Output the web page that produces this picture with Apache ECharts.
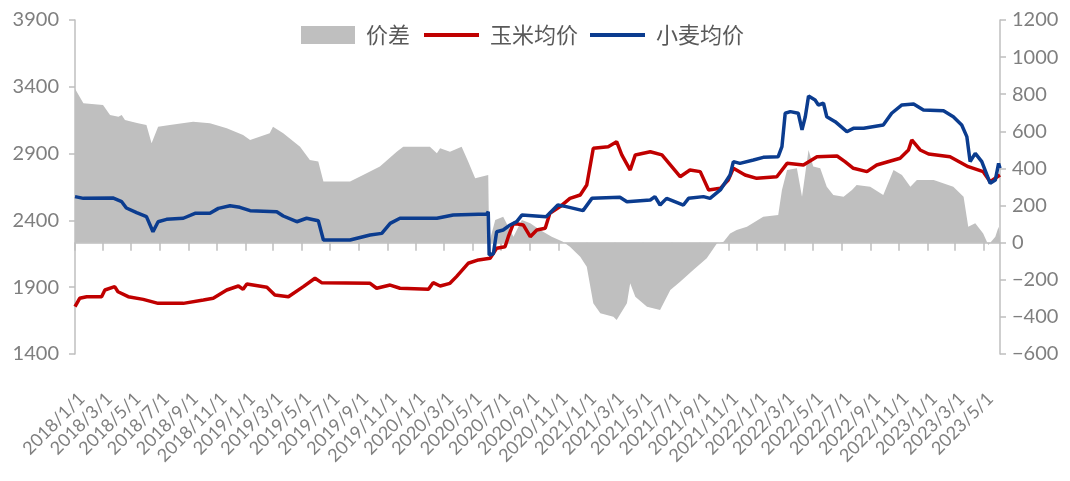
<!DOCTYPE html>
<html>
<head>
<meta charset="utf-8">
<script src="https://cdn.jsdelivr.net/npm/echarts@6/dist/echarts.min.js"></script>
<style>
html,body{margin:0;padding:0;background:#fff;}
#c{width:1070px;height:481px;}
</style>
</head>
<body>
<div id="c"></div>
<script>
// ---- data ----
const startDate = '2018/1/1';
const endDate = '2023/6/5';
const leftTicks = [1400, 1900, 2400, 2900, 3400, 3900];
const rightTicks = [-600, -400, -200, 0, 200, 400, 600, 800, 1000, 1200];

// 价差 (right axis)
const spreadDates = ['2018/1/1','2018/1/19','2018/3/2','2018/3/17','2018/4/4','2018/4/11','2018/4/18','2018/5/16','2018/6/3','2018/6/14','2018/6/28','2018/7/23','2018/9/11','2018/10/17','2018/11/22','2018/12/27','2019/1/11','2019/2/22','2019/3/1','2019/3/23','2019/4/28','2019/5/19','2019/6/6','2019/6/17','2019/8/13','2019/9/10','2019/10/16','2019/11/21','2019/12/5','2020/1/31','2020/2/15','2020/2/22','2020/3/14','2020/4/8','2020/4/22','2020/5/7','2020/6/4','2020/6/6','2020/6/19','2020/7/6','2020/7/28','2020/8/15','2020/9/2','2020/9/23','2020/10/18','2020/11/11','2020/11/26','2020/12/18','2021/1/1','2021/1/15','2021/1/30','2021/2/27','2021/3/6','2021/3/28','2021/4/4','2021/4/15','2021/5/10','2021/6/7','2021/6/29','2021/7/20','2021/8/17','2021/9/15','2021/10/7','2021/10/21','2021/11/4','2021/11/18','2021/12/10','2022/1/14','2022/2/15','2022/2/23','2022/3/6','2022/3/27','2022/4/7','2022/4/14','2022/4/21','2022/5/1','2022/5/16','2022/5/30','2022/6/13','2022/7/5','2022/7/23','2022/8/2','2022/8/31','2022/9/28','2022/10/20','2022/11/7','2022/11/25','2022/12/9','2023/1/14','2023/2/25','2023/3/19','2023/3/29','2023/4/13','2023/4/30','2023/5/11','2023/5/26','2023/6/2','2023/6/5'];
const spreadValues = [830,751,742,688,679,688,661,643,634,536,625,634,652,643,616,580,553,589,625,589,517,446,437,329,329,365,410,490,517,517,482,509,490,517,437,347,365,0,122,140,32,122,104,68,32,5,-22,-76,-130,-327,-381,-399,-417,-327,-219,-291,-345,-363,-255,-210,-147,-84,-3,5,50,68,86,140,149,284,392,401,248,374,499,410,401,302,257,248,284,311,302,257,392,365,302,338,338,302,248,86,104,50,-13,32,86,32];

// 玉米均价 (left axis)
const cornDates = ['2018/1/1','2018/1/11','2018/1/26','2018/2/27','2018/3/6','2018/3/27','2018/4/3','2018/4/25','2018/5/27','2018/6/28','2018/8/21','2018/10/3','2018/10/24','2018/11/22','2018/12/17','2018/12/27','2019/1/4','2019/2/16','2019/3/5','2019/4/3','2019/5/5','2019/5/30','2019/6/13','2019/9/25','2019/10/9','2019/11/7','2019/11/28','2020/1/28','2020/2/7','2020/2/22','2020/3/14','2020/3/28','2020/4/22','2020/5/14','2020/6/8','2020/6/22','2020/7/10','2020/7/17','2020/7/28','2020/8/18','2020/9/2','2020/9/16','2020/10/4','2020/10/14','2020/11/5','2020/11/26','2020/12/18','2021/1/1','2021/1/15','2021/2/16','2021/3/6','2021/3/17','2021/4/4','2021/4/15','2021/5/17','2021/6/11','2021/7/20','2021/8/10','2021/9/1','2021/9/19','2021/10/14','2021/10/31','2021/11/11','2021/12/6','2021/12/31','2022/2/12','2022/3/6','2022/4/10','2022/5/9','2022/6/21','2022/7/8','2022/7/26','2022/8/24','2022/9/14','2022/11/3','2022/11/21','2022/11/28','2022/12/16','2023/1/3','2023/2/18','2023/3/29','2023/4/30','2023/5/15','2023/6/5'];
const cornValues = [1754,1817,1829,1829,1879,1904,1866,1829,1809,1779,1779,1804,1817,1879,1909,1884,1924,1899,1842,1829,1904,1967,1934,1929,1892,1916,1892,1884,1934,1909,1929,1979,2079,2104,2116,2191,2203,2278,2378,2366,2278,2328,2341,2453,2503,2565,2590,2665,2940,2952,2989,2890,2777,2890,2914,2890,2727,2777,2765,2628,2640,2702,2790,2740,2715,2727,2827,2815,2877,2882,2840,2790,2765,2815,2865,2927,3002,2927,2897,2877,2802,2765,2690,2740];

// 小麦均价 (left axis)
const wheatDates = ['2018/1/1','2018/1/19','2018/3/23','2018/4/11','2018/4/21','2018/5/13','2018/6/3','2018/6/17','2018/6/28','2018/7/16','2018/8/21','2018/9/15','2018/10/17','2018/11/4','2018/11/29','2018/12/20','2019/1/11','2019/3/9','2019/3/23','2019/4/21','2019/5/12','2019/6/6','2019/6/17','2019/8/13','2019/9/25','2019/10/20','2019/11/7','2019/11/28','2020/2/15','2020/3/21','2020/6/1','2020/6/4','2020/6/6','2020/6/15','2020/6/22','2020/7/6','2020/7/21','2020/8/4','2020/8/15','2020/10/6','2020/10/31','2020/11/18','2020/12/24','2021/1/12','2021/3/13','2021/3/28','2021/5/17','2021/5/27','2021/6/7','2021/6/21','2021/7/27','2021/8/7','2021/9/8','2021/9/22','2021/10/14','2021/11/4','2021/11/11','2021/11/25','2021/12/24','2022/1/14','2022/2/15','2022/2/23','2022/3/2','2022/3/13','2022/3/30','2022/4/7','2022/4/14','2022/4/21','2022/5/5','2022/5/12','2022/5/23','2022/5/30','2022/6/17','2022/7/12','2022/7/26','2022/8/17','2022/9/28','2022/10/16','2022/11/7','2022/12/2','2022/12/23','2023/2/4','2023/2/25','2023/3/15','2023/3/26','2023/4/2','2023/4/13','2023/4/27','2023/5/15','2023/5/26','2023/6/2','2023/6/5'];
const wheatValues = [2578,2565,2568,2540,2493,2458,2428,2315,2390,2408,2416,2453,2453,2490,2510,2498,2473,2465,2433,2390,2416,2398,2253,2253,2291,2303,2378,2416,2416,2440,2448,2465,2141,2150,2315,2328,2366,2391,2440,2428,2515,2503,2473,2565,2573,2540,2553,2578,2515,2565,2515,2565,2578,2565,2628,2740,2840,2827,2852,2872,2877,2952,3202,3214,3202,3077,3176,3331,3301,3264,3277,3176,3139,3064,3089,3089,3114,3202,3264,3271,3226,3221,3176,3114,3027,2840,2902,2840,2678,2702,2827,2790];

// ---- build category axis (calendar days) ----
function fmt(d){return d.getUTCFullYear()+'/'+(d.getUTCMonth()+1)+'/'+d.getUTCDate();}
function parse(s){const p=s.split('/');return new Date(Date.UTC(+p[0],+p[1]-1,+p[2]));}
const categories=[];
for(let d=parse(startDate); d<=parse(endDate); d=new Date(d.getTime()+86400000)) categories.push(fmt(d));
const idx={}; categories.forEach((c,i)=>idx[c]=i);
const pairs=(ds,vs)=>ds.map((d,i)=>[idx[d],vs[i]]);
const isTick=(i,v)=>{const p=String(v).split('/');return p[2]==='1' && (+p[1])%2===1;};

const axisGray='#bfbfbf', labelGray='#7f7f7f';
const legendText={fontSize:22,color:'#595959',fontFamily:'Noto Sans CJK SC',padding:[0,0,0,6]};
const chart=echarts.init(document.getElementById('c'),null,{renderer:'canvas'});
chart.setOption({
  animation:false,
  backgroundColor:'#fff',
  grid:{left:75,right:70,top:20,bottom:127},
  legend:[
    {left:296, top:19, itemWidth:54, itemHeight:18, textStyle:legendText,
     data:[{name:'价差',icon:'rect'}]},
    {left:419, top:19, itemWidth:55, itemHeight:4, itemGap:12, textStyle:legendText,
     data:[{name:'玉米均价',icon:'rect'},{name:'小麦均价',icon:'rect'}]}
  ],
  xAxis:{
    type:'category', data:categories, boundaryGap:false,
    axisLine:{lineStyle:{color:axisGray,width:1.5}},
    axisTick:{interval:isTick,length:8,lineStyle:{color:axisGray,width:1.5}},
    axisLabel:{interval:isTick,rotate:45,fontSize:18,color:labelGray,margin:35,
      verticalAlign:'top',lineHeight:19,fontFamily:'Lato',showMinLabel:true,showMaxLabel:true,hideOverlap:false},
    splitLine:{show:false}
  },
  yAxis:[
    {type:'value',min:leftTicks[0],max:leftTicks[leftTicks.length-1],interval:500,
     axisLine:{show:true,lineStyle:{color:axisGray,width:1.5}},
     axisTick:{show:true,length:6,lineStyle:{color:axisGray,width:1.5}},
     axisLabel:{fontSize:20,color:labelGray,margin:16,fontFamily:'Lato',formatter:v=>String(v)},
     splitLine:{show:false}},
    {type:'value',min:rightTicks[0],max:rightTicks[rightTicks.length-1],interval:200,position:'right',
     axisLine:{show:true,lineStyle:{color:axisGray,width:1.5}},
     axisTick:{show:true,length:6,lineStyle:{color:axisGray,width:1.5}},
     axisLabel:{fontSize:20,color:labelGray,margin:12,fontFamily:'Lato',
       formatter:v=>String(v).replace('-','\u2212')},
     splitLine:{show:false}}
  ],
  series:[
    {name:'价差',type:'line',yAxisIndex:1,data:pairs(spreadDates,spreadValues),symbol:'none',
     lineStyle:{width:0,color:'#bfbfbf'},itemStyle:{color:'#bfbfbf'},areaStyle:{color:'#bfbfbf',opacity:1,origin:0},z:1},
    {name:'玉米均价',type:'line',yAxisIndex:0,data:pairs(cornDates,cornValues),symbol:'none',
     lineStyle:{width:3.5,color:'#c00000'},itemStyle:{color:'#c00000'},z:3},
    {name:'小麦均价',type:'line',yAxisIndex:0,data:pairs(wheatDates,wheatValues),symbol:'none',
     lineStyle:{width:3.5,color:'#0b3c8f'},itemStyle:{color:'#0b3c8f'},z:4}
  ]
});
</script>
</body>
</html>
